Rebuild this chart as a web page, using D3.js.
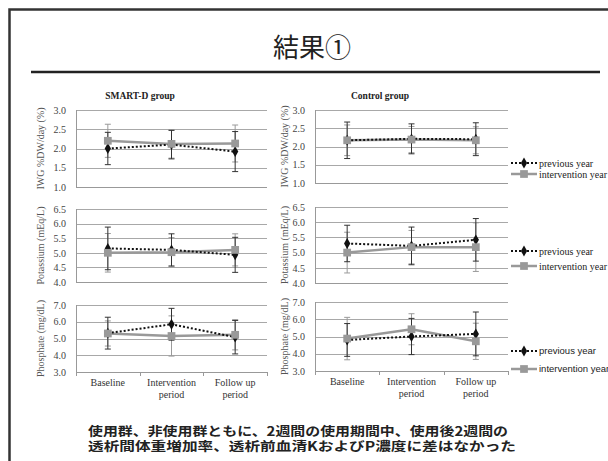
<!DOCTYPE html>
<html>
<head>
<meta charset="utf-8">
<script src="https://cdn.jsdelivr.net/npm/d3@7"></script>
<style>
	body { margin: 0; background: #fff; }
	svg { display: block; }
</style>
</head>
<body>
<div id="slide"></div>
<script>
// categories and series
const categories = ["Baseline", "Intervention period", "Follow up period"];
const categoryLines = [["Baseline"], ["Intervention", "period"], ["Follow up", "period"]];
const seriesNames = ["previous year", "intervention year"];
const groupNames = ["SMART-D group", "Control group"];

// y axis ticks and labels
const iwgTicks = [1.0, 1.5, 2.0, 2.5, 3.0];
const kTicks = [4.0, 4.5, 5.0, 5.5, 6.0, 6.5];
const pTicks = [3.0, 4.0, 5.0, 6.0, 7.0];
const yLabels = ["IWG %DW/day (%)", "Potassium (mEq/L)", "Phosphate  (mg/dL)"];

// SMART-D group
const iwgSmartPrev = [2.0, 2.1, 1.92];
const iwgSmartPrevErr = [0.42, 0.37, 0.52];
const iwgSmartIntv = [2.2, 2.12, 2.13];
const iwgSmartIntvErr = [0.43, 0.37, 0.48];
const kSmartPrev = [5.15, 5.1, 4.93];
const kSmartPrevErr = [0.73, 0.55, 0.6];
const kSmartIntv = [5.0, 5.02, 5.1];
const kSmartIntvErr = [0.66, 0.5, 0.55];
const pSmartPrev = [5.32, 5.85, 5.08];
const pSmartPrevErr = [0.95, 0.95, 1.0];
const pSmartIntv = [5.3, 5.15, 5.22];
const pSmartIntvErr = [0.75, 1.2, 0.9];

// Control group
const iwgCtrlPrev = [2.17, 2.21, 2.2];
const iwgCtrlPrevErr = [0.5, 0.41, 0.45];
const iwgCtrlIntv = [2.17, 2.19, 2.17];
const iwgCtrlIntvErr = [0.42, 0.36, 0.37];
const kCtrlPrev = [5.3, 5.22, 5.42];
const kCtrlPrevErr = [0.6, 0.62, 0.7];
const kCtrlIntv = [5.0, 5.18, 5.18];
const kCtrlIntvErr = [0.67, 0.55, 0.8];
const pCtrlPrev = [4.8, 5.0, 5.15];
const pCtrlPrevErr = [0.95, 1.05, 1.27];
const pCtrlIntv = [4.88, 5.42, 4.72];
const pCtrlIntvErr = [1.23, 0.9, 1.05];

const W = 608, H = 461;
const serif = "'Liberation Serif', 'DejaVu Serif', serif";
const jp = "'Noto Sans CJK JP', sans-serif";
const prevColor = "#111", intvColor = "#999";

const svg = d3.select("#slide").append("svg")
	.attr("width", W)
	.attr("height", H);

// slide frame
svg.append("path")
	.attr("d", "M9.5," + H + "V9.5H" + W)
	.attr("fill", "none")
	.attr("stroke", "#333")
	.attr("stroke-width", 2.5);

svg.append("text")
	.attr("x", 312).attr("y", 57)
	.attr("text-anchor", "middle")
	.style("font-family", jp)
	.style("font-size", "26px")
	.attr("fill", "#222")
	.text("結果①");

svg.append("line")
	.attr("x1", 31).attr("x2", 600)
	.attr("y1", 72).attr("y2", 72)
	.attr("stroke", "#222")
	.attr("stroke-width", 2.5);

// group titles
[140, 380].forEach((cx, i) => {
	svg.append("text")
		.attr("x", cx).attr("y", 99)
		.attr("text-anchor", "middle")
		.style("font-family", serif)
		.style("font-size", "9.5px")
		.style("font-weight", "bold")
		.attr("fill", "#222")
		.text(groupNames[i]);
});

// panel layout: [left, right, top, bottom]
var panels = [
	{ box: [76, 267, 110, 187], ticks: iwgTicks, label: yLabels[0], labelX: 40,
		prev: iwgSmartPrev, prevErr: iwgSmartPrevErr, intv: iwgSmartIntv, intvErr: iwgSmartIntvErr },
	{ box: [76, 267, 209, 282], ticks: kTicks, label: yLabels[1], labelX: 40,
		prev: kSmartPrev, prevErr: kSmartPrevErr, intv: kSmartIntv, intvErr: kSmartIntvErr },
	{ box: [76, 267, 305, 372], ticks: pTicks, label: yLabels[2], labelX: 40, xLabels: true,
		prev: pSmartPrev, prevErr: pSmartPrevErr, intv: pSmartIntv, intvErr: pSmartIntvErr },
	{ box: [315, 508, 110, 183], ticks: iwgTicks, label: yLabels[0], labelX: 284, legend: [163, 174],
		prev: iwgCtrlPrev, prevErr: iwgCtrlPrevErr, intv: iwgCtrlIntv, intvErr: iwgCtrlIntvErr },
	{ box: [315, 508, 207, 283], ticks: kTicks, label: yLabels[1], labelX: 284, legend: [251, 266],
		prev: kCtrlPrev, prevErr: kCtrlPrevErr, intv: kCtrlIntv, intvErr: kCtrlIntvErr },
	{ box: [315, 508, 302, 371], ticks: pTicks, label: yLabels[2], labelX: 284, xLabels: true, legend: [351, 369], sansLegend: true,
		prev: pCtrlPrev, prevErr: pCtrlPrevErr, intv: pCtrlIntv, intvErr: pCtrlIntvErr }
];

panels.forEach(drawPanel);

function drawPanel(p) {
	var [x0, x1, y0, y1] = p.box;
	var x = d3.scaleBand().domain(categories).range([x0, x1]);
	var y = d3.scaleLinear().domain(d3.extent(p.ticks)).range([y1, y0]);
	var g = svg.append("g");

	// gridlines + tick labels
	g.append("g")
		.attr("transform", "translate(" + x0 + ",0)")
		.call(d3.axisLeft(y).tickValues(p.ticks).tickSize(-(x1 - x0)).tickFormat(d3.format(".1f")).tickPadding(10))
		.call(g => g.select(".domain").remove())
		.call(g => g.selectAll(".tick line").attr("stroke", "#a8a8a8").attr("shape-rendering", "crispEdges"))
		.call(g => g.selectAll(".tick text")
			.style("font-family", serif).style("font-size", "10px").attr("fill", "#444"));

	// y axis line
	g.append("line")
		.attr("x1", x0 + 0.5).attr("x2", x0 + 0.5)
		.attr("y1", y0).attr("y2", y1)
		.attr("stroke", "#999");

	// bottom axis with band ticks
	var xAxis = g.append("g").attr("transform", "translate(0," + y1 + ")");
	xAxis.append("line")
		.attr("x1", x0).attr("x2", x1)
		.attr("y1", 0.5).attr("y2", 0.5)
		.attr("stroke", "#999");
	if (p.xLabels) {
		var bounds = categories.map(c => x(c)).concat([x1]);
		xAxis.selectAll(".btick").data(bounds).enter().append("line")
			.attr("x1", d => Math.round(d) + 0.5).attr("x2", d => Math.round(d) + 0.5)
			.attr("y1", 0).attr("y2", 4)
			.attr("stroke", "#999");
		categories.forEach((c, i) => {
			var t = xAxis.append("text")
				.attr("x", x(c) + x.bandwidth() / 2)
				.attr("y", 14)
				.attr("text-anchor", "middle")
				.style("font-family", serif)
				.style("font-size", "10px")
				.attr("fill", "#333");
			categoryLines[i].forEach((line, j) => {
				t.append("tspan")
					.attr("x", x(c) + x.bandwidth() / 2)
					.attr("dy", j === 0 ? 0 : 12)
					.text(line);
			});
		});
	}

	// y label
	g.append("text")
		.attr("transform", "translate(" + p.labelX + "," + ((y0 + y1) / 2) + ") rotate(-90)")
		.attr("text-anchor", "middle")
		.attr("dy", "0.35em")
		.style("font-family", serif)
		.style("font-size", "10px")
		.attr("fill", "#555")
		.text(p.label);

	var cx = c => x(c) + x.bandwidth() / 2;

	function errorBars(vals, errs, color) {
		var eb = g.append("g");
		categories.forEach((c, i) => {
			var top = y(vals[i] + errs[i]), bot = y(vals[i] - errs[i]);
			eb.append("line").attr("x1", cx(c)).attr("x2", cx(c)).attr("y1", top).attr("y2", bot)
				.attr("stroke", color).attr("stroke-width", 1);
			[top, bot].forEach(v => {
				eb.append("line").attr("x1", cx(c) - 3).attr("x2", cx(c) + 3).attr("y1", v).attr("y2", v)
					.attr("stroke", color).attr("stroke-width", 1);
			});
		});
	}

	errorBars(p.intv, p.intvErr, "#9a9a9a");
	errorBars(p.prev, p.prevErr, "#333");

	var line = d3.line().x((d, i) => cx(categories[i])).y(d => y(d));

	g.append("path")
		.attr("d", line(p.intv))
		.attr("fill", "none")
		.attr("stroke", intvColor)
		.attr("stroke-width", 2.5);
	g.append("path")
		.attr("d", line(p.prev))
		.attr("fill", "none")
		.attr("stroke", prevColor)
		.attr("stroke-width", 2)
		.attr("stroke-dasharray", "2,2");

	var sq = d3.symbol().type(d3.symbolSquare).size(60);
	var dm = d3.symbol().type(d3.symbolDiamond).size(34);

	g.selectAll(".prevpt").data(p.prev).enter().append("path")
		.attr("d", dm)
		.attr("transform", (d, i) => "translate(" + cx(categories[i]) + "," + y(d) + ")")
		.attr("fill", prevColor);
	g.selectAll(".intvpt").data(p.intv).enter().append("path")
		.attr("d", sq)
		.attr("transform", (d, i) => "translate(" + cx(categories[i]) + "," + y(d) + ")")
		.attr("fill", intvColor);

	if (p.legend) {
		var font = p.sansLegend ? "'Liberation Sans', Arial, sans-serif" : serif;
		seriesNames.forEach((name, i) => {
			var ly = p.legend[i];
			var lg = g.append("g");
			lg.append("line")
				.attr("x1", 511).attr("x2", 537).attr("y1", ly).attr("y2", ly)
				.attr("stroke", i === 0 ? prevColor : intvColor)
				.attr("stroke-width", i === 0 ? 2 : 2.5)
				.attr("stroke-dasharray", i === 0 ? "2,2" : null);
			lg.append("path")
				.attr("d", i === 0 ? dm : sq)
				.attr("transform", "translate(524," + ly + ")")
				.attr("fill", i === 0 ? prevColor : intvColor);
			lg.append("text")
				.attr("x", 539).attr("y", ly)
				.attr("dy", "0.35em")
				.style("font-family", font)
				.style("font-size", p.sansLegend ? "9.5px" : "10px")
				.attr("fill", "#222")
				.text(name);
		});
	}
}

// conclusion text
const conclusion = [
	"使用群、非使用群ともに、2週間の使用期間中、使用後2週間の",
	"透析間体重増加率、透析前血清KおよびP濃度に差はなかった"
];
const conclusionLen = [420, 428];
conclusion.forEach((s, i) => {
	svg.append("text")
		.attr("x", 88).attr("y", 436 + i * 15)
		.attr("textLength", conclusionLen[i])
		.attr("lengthAdjust", "spacingAndGlyphs")
		.style("font-family", jp)
		.style("font-size", "12.5px")
		.style("font-weight", "bold")
		.attr("fill", "#222")
		.text(s);
});
</script>
</body>
</html>
